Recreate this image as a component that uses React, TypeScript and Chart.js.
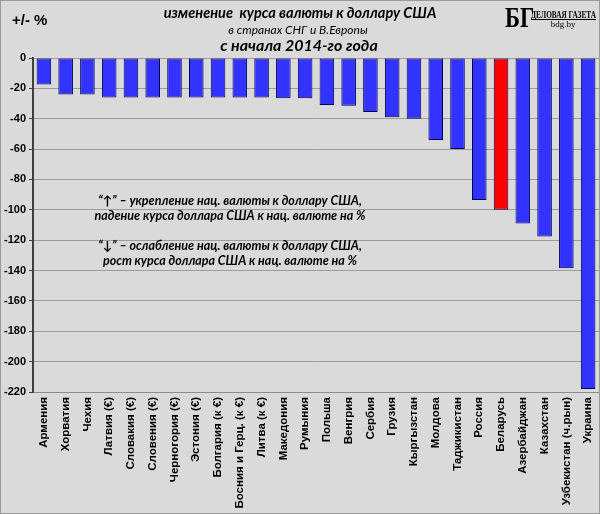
import React, { useEffect, useRef } from 'react';
import { Chart, registerables, Plugin } from 'chart.js';

Chart.register(...registerables);

// countries and change of the currency rate to USD since start of 2014, %
const countries = [
  'Армения', 'Хорватия', 'Чехия', 'Латвия (€)', 'Словакия (€)', 'Словения (€)',
  'Черногория (€)', 'Эстония (€)', 'Болгария (к €)', 'Босния и Герц. (к €)', 'Литва (к €)',
  'Македония', 'Румыния', 'Польша', 'Венгрия', 'Сербия', 'Грузия', 'Кыргызстан',
  'Молдова', 'Таджикистан', 'Россия', 'Беларусь', 'Азербайджан', 'Казахстан',
  'Узбекистан (ч.рын)', 'Украина',
];
const changes = [
  -17.5, -24, -24, -26, -26, -26,
  -26, -26, -26, -26, -26,
  -26.5, -26.5, -31, -31.5, -35.5, -39, -40,
  -54, -60, -93.5, -100, -109, -117.5,
  -138.5, -218,
];
const highlighted = 'Беларусь';

const yMin = -220;
const yMax = 0;
const yStep = 20;

const titleLines = [
  'изменение  курса валюты к доллару США',
  'в странах СНГ и В.Европы',
  'с начала 2014-го года',
];
const unitLabel = '+/- %';
const logoMark = 'БГ';
const logoName = 'ДЕЛОВАЯ ГАЗЕТА';
const logoSite = 'bdg.by';
const noteLines = [
  '“↑” – укрепление нац. валюты к доллару США,',
  'падение курса доллара США к нац. валюте на %',
  '“↓” – ослабление нац. валюты к доллару США,',
  'рост курса доллара США к нац. валюте на %',
];

const BG = '#dadada';
const BLUE = '#3333ff';
const RED = '#ff0000';

const decorPlugin: Plugin<'bar'> = {
  id: 'decor',
  beforeDraw(chart) {
    const { ctx, width, height } = chart;
    ctx.save();
    ctx.fillStyle = BG;
    ctx.fillRect(0, 0, width, height);
    ctx.restore();
  },
  afterDraw(chart) {
    const { ctx, width, height } = chart;
    ctx.save();
    ctx.fillStyle = '#000';
    ctx.textBaseline = 'middle';

    // unit label
    ctx.textAlign = 'left';
    ctx.font = 'bold 15px "Liberation Sans", Arial, sans-serif';
    ctx.fillText(unitLabel, 12, 21);

    // title
    ctx.textAlign = 'center';
    ctx.font = 'italic bold 14.5px Lato, "Open Sans", sans-serif';
    ctx.fillText(titleLines[0], 300, 13);
    ctx.font = 'italic 12px Lato, "Open Sans", sans-serif';
    ctx.fillText(titleLines[1], 298, 30);
    ctx.font = 'italic bold 16px Lato, "Open Sans", sans-serif';
    ctx.fillText(titleLines[2], 299, 46);

    // logo
    ctx.save();
    ctx.textAlign = 'left';
    ctx.textBaseline = 'alphabetic';
    ctx.translate(505, 27);
    ctx.scale(0.78, 1);
    ctx.font = 'bold 29px "Liberation Serif", "DejaVu Serif", serif';
    ctx.fillText(logoMark, 0, 0);
    ctx.restore();

    ctx.save();
    ctx.textAlign = 'left';
    ctx.textBaseline = 'alphabetic';
    ctx.font = 'bold 11px "Liberation Serif", "DejaVu Serif", serif';
    const nameW = ctx.measureText(logoName).width;
    ctx.translate(531, 18);
    ctx.scale(65 / nameW, 1);
    ctx.fillText(logoName, 0, 0);
    ctx.restore();
    ctx.fillRect(531, 19, 65, 1);
    ctx.font = '9px "Liberation Serif", "DejaVu Serif", serif';
    ctx.textAlign = 'center';
    ctx.fillText(logoSite, 563, 25);

    // notes inside the plot
    const y = chart.scales.y;
    const noteValues = [-94, -104, -124, -134];
    ctx.font = 'italic bold 12.5px Lato, "Open Sans", sans-serif';
    noteLines.forEach((line, i) => {
      ctx.fillText(line, 230, y.getPixelForValue(noteValues[i]));
    });

    // picture frame
    ctx.strokeStyle = '#9a9a9a';
    ctx.lineWidth = 1;
    ctx.strokeRect(0.5, 0.5, width - 1, height - 1);
    ctx.restore();
  },
};

const App: React.FC = () => {
  const canvasRef = useRef<HTMLCanvasElement>(null);
  const chartRef = useRef<Chart<'bar', number[], string> | null>(null);

  useEffect(() => {
    document.body.style.margin = '0';
    const ctx = canvasRef.current?.getContext('2d');
    if (!ctx) return;

    chartRef.current = new Chart(ctx, {
      type: 'bar',
      data: {
        labels: countries,
        datasets: [
          {
            data: changes,
            backgroundColor: countries.map((c) => (c === highlighted ? RED : BLUE)),
            borderColor: '#000050',
            borderWidth: 1,
            borderSkipped: false,
            categoryPercentage: 1,
            barPercentage: 0.67,
          },
        ],
      },
      options: {
        responsive: false,
        animation: false,
        devicePixelRatio: 1,
        layout: { padding: { top: 58, right: 1, left: 0, bottom: 0 } },
        plugins: {
          legend: { display: false },
          tooltip: { enabled: false },
          title: { display: false },
        },
        scales: {
          x: {
            afterFit: (scale) => {
              scale.height = 122;
              scale.paddingLeft = 0;
              scale.paddingRight = 0;
            },
            grid: { display: false, drawTicks: false },
            border: { display: true, color: '#8c8c8c', width: 1 },
            ticks: {
              autoSkip: false,
              minRotation: 90,
              maxRotation: 90,
              padding: 5,
              color: '#000',
              font: { family: '"Liberation Sans", Arial, sans-serif', size: 11.5, weight: 'bold' },
            },
          },
          y: {
            min: yMin,
            max: yMax,
            afterFit: (scale) => {
              scale.width = 33;
            },
            grid: { color: '#9c9c9c', lineWidth: 1, tickLength: 4, drawTicks: true, tickColor: '#404040' },
            border: { display: true, color: '#404040', width: 2 },
            ticks: {
              stepSize: yStep,
              padding: 3,
              color: '#000',
              font: { family: '"Liberation Sans", Arial, sans-serif', size: 11, weight: 'bold' },
            },
          },
        },
      },
      plugins: [decorPlugin],
    });

    return () => {
      chartRef.current?.destroy();
      chartRef.current = null;
    };
  }, []);

  return (
    <div style={{ width: 600, height: 514 }}>
      <canvas ref={canvasRef} width={600} height={514} />
    </div>
  );
};

export default App;
